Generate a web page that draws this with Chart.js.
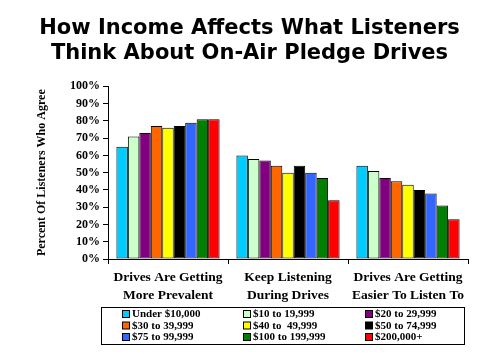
<!DOCTYPE html>
<html>
<head>
<meta charset="utf-8">
<script src="https://cdn.jsdelivr.net/npm/chart.js@4"></script>
<style>
html,body{margin:0;padding:0;background:#fff;}
#wrap{width:480px;height:360px;position:relative;}
</style>
</head>
<body>
<div id="wrap"><canvas id="c" width="480" height="360"></canvas></div>
<script>
const categories = [
  ['Drives Are Getting', 'More Prevalent'],
  ['Keep Listening', 'During Drives'],
  ['Drives Are Getting', 'Easier To Listen To']
];
const incomeLabels = ['Under $10,000', '$10 to 19,999', '$20 to 29,999', '$30 to 39,999', '$40 to  49,999', '$50 to 74,999', '$75 to 99,999', '$100 to 199,999', '$200,000+'];
const incomeColors = ['#00CCFF', '#CCFFCC', '#800080', '#FF6600', '#FFFF00', '#000000', '#3366FF', '#008000', '#FF0000'];
const morePrevalent = [65, 71, 73, 77, 76, 77, 79, 81, 81];
const keepListening = [60, 58, 57, 54, 50, 54, 50, 47, 34];
const easierToListen = [54, 51, 47, 45, 43, 40, 38, 31, 23];
const yTicks = [0, 10, 20, 30, 40, 50, 60, 70, 80, 90, 100];

const datasets = incomeLabels.map((lab, i) => ({
  label: lab,
  data: [morePrevalent[i], keepListening[i], easierToListen[i]],
  backgroundColor: incomeColors[i],
  borderColor: '#000',
  borderWidth: 1,
  borderSkipped: false,
  categoryPercentage: 0.86,
  barPercentage: 1.0
}));

const serifBold = {family: '"Liberation Serif", "Times New Roman", serif', weight: 'bold'};

const gridLegend = {
  id: 'gridLegend',
  afterDraw(chart) {
    const ctx = chart.ctx;
    ctx.save();
    ctx.strokeStyle = '#000';
    ctx.lineWidth = 1;
    ctx.strokeRect(101.5, 307.5, 363, 37);
    const colX = [122, 243, 365];
    const rowY = [314, 325.5, 337];
    ctx.font = 'bold 11px "Liberation Serif", "Times New Roman", serif';
    ctx.textBaseline = 'middle';
    ctx.textAlign = 'left';
    chart.data.datasets.forEach((ds, i) => {
      const x = colX[i % 3];
      const y = rowY[Math.floor(i / 3)];
      ctx.fillStyle = ds.backgroundColor;
      ctx.fillRect(x + 0.5, y - 3.5, 7, 7);
      ctx.strokeStyle = '#000';
      ctx.strokeRect(x + 0.5, y - 3.5, 7, 7);
      ctx.fillStyle = '#000';
      ctx.fillText(ds.label, x + 10, y + 0.5);
    });
    ctx.restore();
  }
};

new Chart(document.getElementById('c'), {
  type: 'bar',
  data: { labels: categories, datasets },
  plugins: [gridLegend],
  options: {
    responsive: false,
    animation: false,
    layout: { padding: { left: 31, right: 12, top: 0, bottom: 0 } },
    plugins: {
      legend: { display: false },
      tooltip: { enabled: false },
      title: {
        display: true,
        text: ['How Income Affects What Listeners', 'Think About On-Air Pledge Drives'],
        color: '#000',
        font: { family: '"DejaVu Sans", sans-serif', size: 21, weight: 'bold', lineHeight: 1.2 },
        padding: { top: 16, bottom: 20 }
      }
    },
    scales: {
      x: {
        grid: { drawOnChartArea: false, color: '#000', tickLength: 5, offset: true },
        border: { color: '#000', width: 1 },
        ticks: {
          color: '#000',
          font: Object.assign({ size: 13.5, lineHeight: 1.3 }, serifBold),
          padding: 5,
          maxRotation: 0,
          autoSkip: false
        },
        afterFit(scale) { scale.height = 101; }
      },
      y: {
        min: 0,
        max: 100,
        afterBuildTicks(scale) { scale.ticks = yTicks.map(v => ({ value: v })); },
        grid: { drawOnChartArea: false, color: '#000', tickLength: 5 },
        border: { color: '#000', width: 1 },
        ticks: {
          color: '#000',
          font: Object.assign({ size: 12 }, serifBold),
          padding: 3,
          autoSkip: false,
          callback: v => v + '%'
        },
        title: {
          display: true,
          text: 'Percent Of Listeners Who Agree',
          color: '#000',
          font: Object.assign({ size: 12 }, serifBold)
        },
        afterFit(scale) { scale.width = 77; }
      }
    }
  }
});
</script>
</body>
</html>
